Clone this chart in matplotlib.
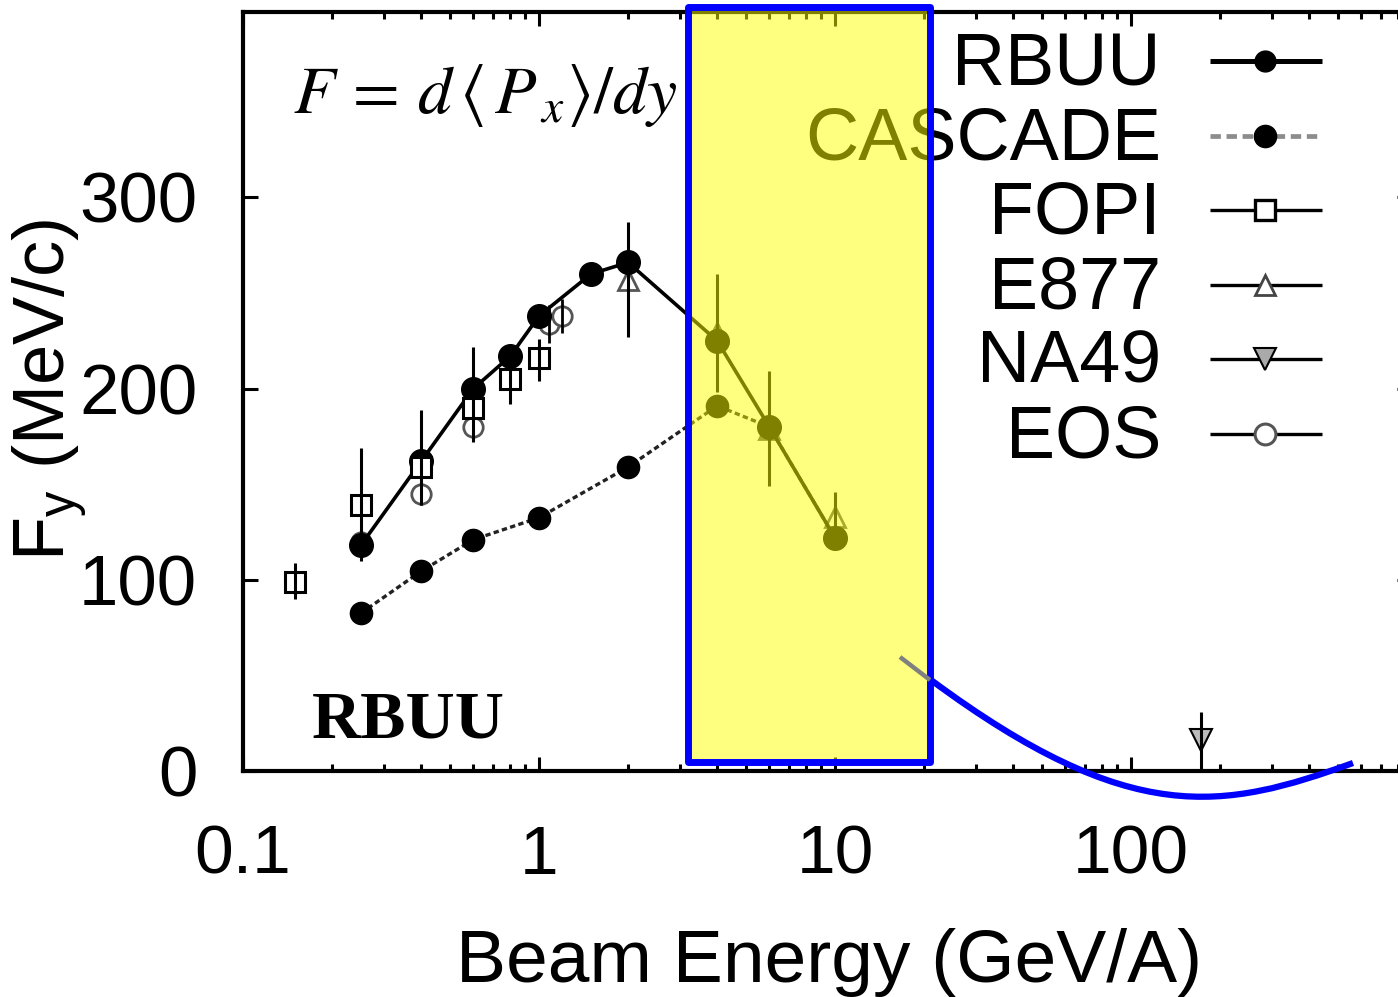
import numpy as np
import matplotlib
matplotlib.use('Agg')
import matplotlib.pyplot as plt
from matplotlib.patches import Rectangle, PathPatch
from matplotlib.path import Path
from matplotlib.ticker import LogLocator, NullFormatter

plt.rcParams['font.family'] = ['Liberation Sans', 'DejaVu Sans']

# directed flow F_y (MeV/c) vs beam energy (GeV/A)
rbuu_e = [0.25, 0.4, 0.6, 0.8, 1.0, 1.5, 2.0, 4.0, 6.0, 10.0]
rbuu_f = [118, 162, 200, 217, 238, 260, 266, 225, 180, 122]

cascade_e = [0.25, 0.4, 0.6, 1.0, 2.0, 4.0, 6.0, 10.0]
cascade_f = [82.5, 104.5, 121, 132.5, 159, 191, 180, 122]

fopi_e = [0.15, 0.25, 0.4, 0.6, 0.8, 1.0]
fopi_f = [99, 139, 159, 190, 205, 216]
fopi_lo = [9, 29, 20, 18, 13, 12]
fopi_hi = [10, 30, 30, 32, 9, 10]

e877_e = [2.0, 4.0, 6.0, 10.0]
e877_f = [257, 229, 179, 133]
e877_err = [30, 31, 30, 13]

na49_e = [172]
na49_f = [16]
na49_err = [15]

eos_e = [0.25, 0.4, 0.6, 1.08, 1.2]
eos_f = [120, 145, 180, 234, 238]
eos_err = [4, 6, 7, 10, 9]

xticks = [0.1, 1, 10, 100]
xticklabels = ['0.1', '1', '10', '100']
yticks = [0, 100, 200, 300]

W, H = 1398, 997
fig = plt.figure(figsize=(W / 100, H / 100), dpi=100)
ax = fig.add_axes([243 / W, (H - 771) / H, (1412 - 243) / W, (771 - 12) / H])
ax.set_xscale('log')
ax.set_xlim(0.1, 890)
ax.set_ylim(0, 397)

ax.plot(cascade_e, cascade_f, color='#222222', lw=2.4, ls=(0, (1.6, 1.0)),
        marker='o', ms=16, mfc='black', mec='black', zorder=3)
ax.errorbar(eos_e, eos_f, yerr=eos_err, fmt='o', ms=14, mfc='white', mec='#555555',
            mew=2, ecolor='black', elinewidth=2, capsize=0, barsabove=True, zorder=3)
ax.errorbar(e877_e, e877_f, yerr=e877_err, fmt='^', ms=15, mfc='white', mec='#555555',
            mew=2, ecolor='black', elinewidth=2.2, capsize=0, barsabove=True, zorder=3)
ax.plot(rbuu_e, rbuu_f, color='black', lw=2.6, marker='o', ms=17, zorder=4)
ax.errorbar(fopi_e, fopi_f, yerr=[fopi_lo, fopi_hi], fmt='s', ms=15, mfc='white', mec='black',
            mew=2.2, ecolor='black', elinewidth=2.2, capsize=0, barsabove=True, zorder=5)
ax.errorbar(na49_e, na49_f, yerr=na49_err, fmt='v', ms=16, mfc='#bbbbbb', mec='black',
            mew=1.5, ecolor='black', elinewidth=2.2, capsize=0, barsabove=True, zorder=5)

ax.set_xticks(xticks)
ax.set_xticklabels(xticklabels)
ax.xaxis.set_minor_locator(LogLocator(base=10, subs=np.arange(2, 10)))
ax.xaxis.set_minor_formatter(NullFormatter())
ax.set_yticks(yticks)
ax.tick_params(which='both', direction='in', top=True, right=True, width=2.2)
ax.tick_params(axis='x', which='major', length=10, pad=38, labelsize=50)
ax.tick_params(axis='x', which='minor', length=5)
ax.tick_params(axis='y', which='major', length=11, pad=33, labelsize=51)
for s in ax.spines.values():
    s.set_linewidth(3)

# texts
fig.text(829 / W, 1 - 982 / H, 'Beam Energy (GeV/A)', fontsize=54, ha='center', va='baseline')
fig.text(50 / W, 1 - 390 / H, r'F$_\mathregular{y}$ (MeV/c)', fontsize=52, rotation=90,
         ha='center', va='center')
fig.text(293 / W, 1 - 113 / H, r'$F\,{=}\,d\,\langle\, P_{\,x}\rangle/dy$', fontsize=49,
         math_fontfamily='stix', ha='left', va='baseline')
fig.text(312 / W, 1 - 737 / H, 'RBUU', fontsize=49, family='Liberation Serif',
         weight='bold', ha='left', va='baseline')

# overlay in pixel coordinates: legend, highlight box, arrow curve
ov = fig.add_axes([0, 0, 1, 1])
ov.set_xlim(0, W)
ov.set_ylim(H, 0)
ov.axis('off')

names = ['RBUU', 'CASCADE', 'FOPI', 'E877', 'NA49', 'EOS']
styles = [
    dict(line=dict(color='black', lw=3.6), mk=dict(marker='o', ms=15, mfc='black', mec='black')),
    dict(line=dict(color='#8c8c8c', lw=3.4, ls=(0, (2.2, 1.2))), mk=dict(marker='o', ms=16, mfc='black', mec='black')),
    dict(line=dict(color='black', lw=2.4), mk=dict(marker='s', ms=15, mfc='white', mec='black', mew=2.4)),
    dict(line=dict(color='black', lw=2.4), mk=dict(marker='^', ms=14, mfc='white', mec='#444444', mew=2)),
    dict(line=dict(color='black', lw=2.4), mk=dict(marker='v', ms=16, mfc='#aaaaaa', mec='black', mew=1.5)),
    dict(line=dict(color='black', lw=2.4), mk=dict(marker='o', ms=15, mfc='white', mec='#555555', mew=2.2)),
]
for i, (name, st) in enumerate(zip(names, styles)):
    yt = 85 + 74.4 * i
    yl = 61 + 74.6 * i
    ov.text(1161, yt, name, fontsize=53, ha='right', va='baseline')
    ov.plot([1210, 1322], [yl, yl], solid_capstyle='butt', **st['line'])
    ov.plot([1265], [yl], ls='none', **st['mk'])

ov.add_patch(Rectangle((688, 7.5), 242, 754.5, facecolor=(1, 1, 0, 0.5),
                       edgecolor='#0000ff', lw=5, joinstyle='round', zorder=10))
ov.plot([900, 930], [657, 680], color='#808080', lw=3.2, solid_capstyle='butt', zorder=11)
curve = Path([(931, 680), (1131, 828), (1223, 810), (1353, 763)],
             [Path.MOVETO, Path.CURVE4, Path.CURVE4, Path.CURVE4])
ov.add_patch(PathPatch(curve, facecolor='none', edgecolor='#0000ff', lw=4.5, zorder=11))

fig.savefig('out.png', dpi=100)
